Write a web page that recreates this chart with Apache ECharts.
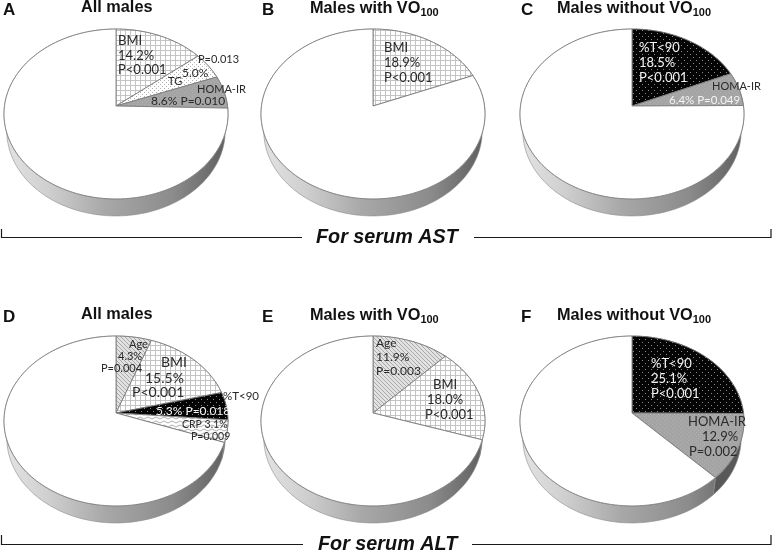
<!DOCTYPE html>
<html>
<head>
<meta charset="utf-8">
<script src="https://cdn.jsdelivr.net/npm/echarts@6/dist/echarts.min.js"></script>
<style>html,body{margin:0;padding:0;background:#fff}#c{width:772px;height:552px}</style>
</head>
<body>
<div id="c"></div>
<script>
// ---- data ----
const panelLetters = ['A', 'B', 'C', 'D', 'E', 'F'];
const panelTitles = ['All males', 'Males with VO', 'Males without VO', 'All males', 'Males with VO', 'Males without VO'];
const titleSubscripts = ['', '100', '100', '', '100', '100'];
const groupCaptions = ['For serum AST', 'For serum ALT'];

const factorsA = ['BMI', 'TG', 'HOMA-IR'];
const sharesA = [14.2, 5.0, 6.2];
const factorsB = ['BMI'];
const sharesB = [18.9];
const factorsC = ['%T<90', 'HOMA-IR'];
const sharesC = [18.5, 6.4];
const factorsD = ['Age', 'BMI', '%T<90', 'CRP'];
const sharesD = [5.6, 15.4, 5.3, 4.2];
const factorsE = ['Age', 'BMI'];
const sharesE = [12.2, 17.8];
const factorsF = ['%T<90', 'HOMA-IR'];
const sharesF = [25.1, 12.6];

const textA = ['BMI', '14.2%', 'P<0.001', 'P=0.013', '5.0%', 'TG', 'HOMA-IR', '8.6% P=0.010'];
const textB = ['BMI', '18.9%', 'P<0.001'];
const textC = ['%T<90', '18.5%', 'P<0.001', 'HOMA-IR', '6.4% P=0.049'];
const textD = ['Age', '4.3%', 'P=0.004', 'BMI', '15.5%', 'P<0.001', '%T<90', '5.3% P=0.018', 'CRP 3.1%', 'P=0.009'];
const textE = ['Age', '11.9%', 'P=0.003', 'BMI', '18.0%', 'P<0.001'];
const textF = ['%T<90', '25.1%', 'P<0.001', 'HOMA-IR', '12.9%', 'P=0.002'];

// ---- layout and style, kept apart from the data ----
const allFactors = [factorsA, factorsB, factorsC, factorsD, factorsE, factorsF];
const allShares = [sharesA, sharesB, sharesC, sharesD, sharesE, sharesF];
const allText = [textA, textB, textC, textD, textE, textF];
const apexes = [[116, 106], [373, 106], [632, 106], [116, 413], [373, 413], [632, 413]];
const letterPos = [[3, 10], [262, 10], [521, 10], [3, 317], [262, 317], [521, 317]];
const titlePos = [[81, 8], [310, 9], [557, 9], [81, 315], [310, 316], [557, 316]];
const A = 111.5, B = 84.2, K = 0.094, DEPTH = 17, WALL_SHRINK = 0.975;
const INK = '#2a2a2a', WHITE = '#f4f4f4';
// [x, y, size, colour] for each text of a panel
const textPlaces = [
  [[118,41,13,INK],[118,56,13,INK],[118,70,13,INK],[198,59,11,INK],[182,73,12,INK],[168,81,11,INK],[197,89,11,INK],[151,101,12,INK]],
  [[384,48,13,INK],[384,63,13,INK],[384,78,13,INK]],
  [[639,48,13,WHITE],[639,63,13,WHITE],[639,78,13,WHITE],[712,86,11,INK],[669,100,11.5,WHITE]],
  [[129,344,11,INK],[118,356,11,INK],[101,368,11,INK],[161,362,14,INK],[145,378,14,INK],[132,392,14,INK],[223,396,11.5,INK],[156,411,12,WHITE],[182,425,10.5,INK],[191,437,10.5,INK]],
  [[376,343,12,INK],[376,357,12,INK],[376,371,12,INK],[433,385,13,INK],[427,400,13,INK],[425,415,13,INK]],
  [[651,364,13,WHITE],[651,379,13,WHITE],[651,394,13,WHITE],[688,422,13,INK],[702,437,13,INK],[689,452,13,INK]]
];

function tile(size, paint) {
  const cv = document.createElement('canvas');
  cv.width = cv.height = size;
  paint(cv.getContext('2d'), size);
  return { image: cv, repeat: 'repeat' };
}
const gridFill = tile(5, (g, s) => {
  g.fillStyle = '#fff'; g.fillRect(0, 0, s, s);
  g.fillStyle = '#c4c4c4'; g.fillRect(0, 0, s, 1); g.fillRect(0, 0, 1, s);
});
const dotsFill = tile(4, (g, s) => {
  g.fillStyle = '#fff'; g.fillRect(0, 0, s, s);
  g.fillStyle = '#b0b0b0'; g.fillRect(0, 0, 1, 1); g.fillRect(2, 2, 1, 1);
});
const greyFill = tile(4, (g, s) => {
  g.fillStyle = '#a4a4a4'; g.fillRect(0, 0, s, s);
  g.fillStyle = '#b0b0b0'; g.fillRect(0, 0, 1, 1); g.fillRect(2, 2, 1, 1);
});
const blackFill = tile(6, (g, s) => {
  g.fillStyle = '#050505'; g.fillRect(0, 0, s, s);
  g.fillStyle = '#8a8a8a'; g.fillRect(0, 0, 1, 1); g.fillRect(3, 3, 1, 1);
});
const ageFill = tile(4, (g, s) => {
  g.fillStyle = '#e2e2e2'; g.fillRect(0, 0, s, s);
  g.fillStyle = '#a8a8a8';
  for (let i = 0; i < s; i++) g.fillRect(i, i, 1, 1);
});
const waveFill = tile(8, (g, s) => {
  g.fillStyle = '#fff'; g.fillRect(0, 0, s, s);
  g.strokeStyle = '#b0b0b0'; g.lineWidth = 1;
  g.beginPath(); g.moveTo(0, 3); g.lineTo(4, 1); g.lineTo(8, 3); g.stroke();
  g.beginPath(); g.moveTo(0, 7); g.lineTo(4, 5); g.lineTo(8, 7); g.stroke();
});
const topFills = { 'BMI': gridFill, 'TG': dotsFill, 'HOMA-IR': greyFill, '%T<90': blackFill, 'Age': ageFill, 'CRP': waveFill, 'rest': '#ffffff' };
const wallFills = { 'HOMA-IR': '#585858', '%T<90': '#111111' };

// one rim point of a pie seen in perspective
function rimPoint(apex, share) {
  const t = echarts.number.linearMap(share, [0, 100], [0, Math.PI * 2]);
  const u = Math.sin(t), v = -Math.cos(t), d = 1 - K * v;
  return [apex[0] + A * u / d, apex[1] + B * v / d];
}
function arc(apex, from, to) {
  const n = Math.max(2, Math.ceil((to - from) * 2));
  const pts = [];
  for (let i = 0; i <= n; i++) pts.push(rimPoint(apex, from + (to - from) * i / n));
  return pts;
}

const sliceRows = [];
allShares.forEach((shares, p) => {
  let c = 0;
  shares.forEach((s, i) => { sliceRows.push([p, c, c + s, allFactors[p][i]]); c += s; });
  sliceRows.push([p, c, 100, 'rest']);
});

function wallItem(params, api) {
  const row = sliceRows[params.dataIndex];
  const apex = apexes[row[0]];
  const rim = arc(apex, row[1], row[2]);
  const low = rim.slice().reverse().map(q => [apex[0] + (q[0] - apex[0]) * WALL_SHRINK, q[1] + DEPTH]);
  const fill = wallFills[row[3]] || {
    type: 'linear', global: true, x: apex[0] - 112, y: 0, x2: apex[0] + 112, y2: 0,
    colorStops: [
      { offset: 0, color: '#e4e4e4' }, { offset: 0.2, color: '#cfcfcf' },
      { offset: 0.45, color: '#a8a8a8' }, { offset: 0.75, color: '#8c8c8c' },
      { offset: 1, color: '#5e5e5e' }
    ]
  };
  return { type: 'polygon', shape: { points: rim.concat(low) }, style: { fill: fill, stroke: '#8a8a8a', lineWidth: 0.6 } };
}
function topItem(params, api) {
  const row = sliceRows[params.dataIndex];
  const apex = apexes[row[0]];
  return {
    type: 'polygon',
    shape: { points: [apex].concat(arc(apex, row[1], row[2])) },
    style: { fill: topFills[row[3]], stroke: '#7d7d7d', lineWidth: 0.9 }
  };
}

const graphics = [];
function txt(text, x, y, size, color, extra) {
  graphics.push({
    type: 'text', x: x, y: y, z: 10, silent: true,
    style: Object.assign({ text: text, fill: color, fontSize: size, fontFamily: 'Lato, "Open Sans", sans-serif', verticalAlign: 'middle', align: 'left' }, extra || {})
  });
}
allText.forEach((list, p) => list.forEach((t, i) => {
  const q = textPlaces[p][i];
  txt(t, q[0], q[1], q[2], q[3]);
}));
panelLetters.forEach((l, p) => {
  txt(l, letterPos[p][0], letterPos[p][1], 17, '#111', { fontFamily: '"Liberation Sans"', fontWeight: 'bold' });
  const q = titlePos[p];
  const sub = titleSubscripts[p];
  graphics.push({
    type: 'text', x: q[0], y: q[1], z: 10, silent: true,
    style: {
      text: sub ? '{a|' + panelTitles[p] + '}{s|' + sub + '}' : '{a|' + panelTitles[p] + '}',
      verticalAlign: 'middle', align: 'left',
      rich: {
        a: { fontSize: 16.3, fontWeight: 'bold', fontFamily: '"Liberation Sans"', fill: '#111', color: '#111' },
        s: { fontSize: 11, fontWeight: 'bold', fontFamily: '"Liberation Sans"', fill: '#111', color: '#111', padding: [7, 0, 0, 0] }
      }
    }
  });
});
txt(groupCaptions[0], 316, 238, 19.8, '#111', { fontFamily: '"Liberation Sans"', fontWeight: 'bold', fontStyle: 'italic' });
txt(groupCaptions[1], 318, 545, 19.8, '#111', { fontFamily: '"Liberation Sans"', fontWeight: 'bold', fontStyle: 'italic' });

function bracket(y, yEnd, x1, x2, x3, x4) {
  const st = { stroke: '#1a1a1a', lineWidth: 1.2, fill: null };
  graphics.push({ type: 'polyline', z: 5, silent: true, shape: { points: [[x1, yEnd], [x1, y], [x2, y]] }, style: st });
  graphics.push({ type: 'polyline', z: 5, silent: true, shape: { points: [[x3, y], [x4, y], [x4, yEnd]] }, style: st });
}
bracket(237.5, 229, 1.5, 302, 474, 771);
bracket(544.5, 535, 1.5, 303, 472, 771);

const chart = echarts.init(document.getElementById('c'), null, { renderer: 'canvas' });
chart.setOption({
  animation: false,
  backgroundColor: '#fff',
  graphic: { elements: graphics },
  series: [
    { type: 'custom', coordinateSystem: 'none', silent: true, z: 1, renderItem: wallItem, data: sliceRows.map((r, i) => [i]) },
    { type: 'custom', coordinateSystem: 'none', silent: true, z: 2, renderItem: topItem, data: sliceRows.map((r, i) => [i]) }
  ]
});
</script>
</body>
</html>
